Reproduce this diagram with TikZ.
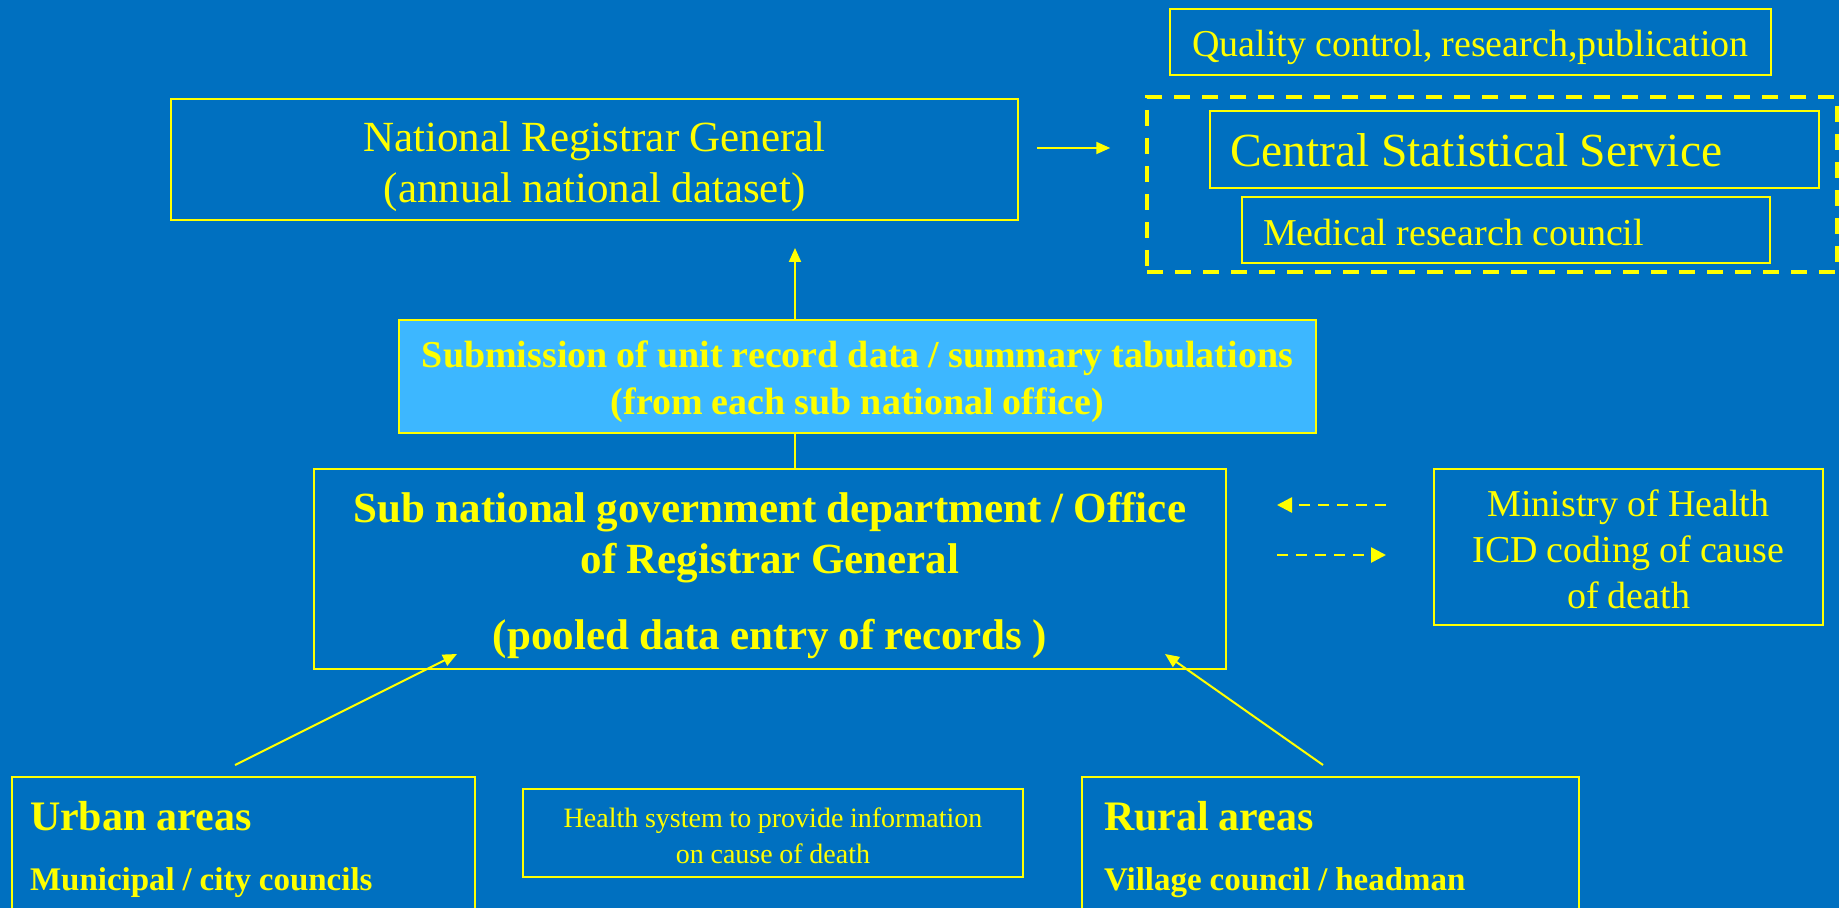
\documentclass[tikz,border=0pt]{standalone}
\usepackage{fontspec}
\setmainfont{Liberation Serif}[WordSpace=0.95]
\usetikzlibrary{arrows.meta,calc}
\definecolor{bg}{HTML}{0070C0}
\definecolor{ylw}{HTML}{FFFF00}
\definecolor{lblue}{HTML}{3DB7FF}
\tikzset{
  bx/.style={draw=ylw, line width=1pt, text=ylw, inner sep=0pt, anchor=center},
  ctr/.style={execute at begin node={\spaceskip=0pt\xspaceskip=0pt\centering}},
  lft/.style={execute at begin node={\spaceskip=0pt\xspaceskip=0pt\raggedright}},
  conn/.style={draw=ylw, line width=1pt},
  arr/.style={conn, -{Triangle[length=7pt,width=6pt]}},
  darr/.style={draw=ylw, line width=1.3pt, dash pattern=on 5.5pt off 4pt, -{Triangle[length=7.5pt,width=7.5pt]}},
  grpbox/.style={draw=ylw, line width=1.75pt, dash pattern=on 8pt off 6pt, inner sep=0pt},
}
\begin{document}
\begin{tikzpicture}[x=0.5pt,y=-0.5pt]
\useasboundingbox (0,0) rectangle (1839,908);
\clip (0,0) rectangle (1839,908);
\fill[bg] (0,0) rectangle (1839,908);

% top right group
\node[bx, minimum width=300.5pt, minimum height=33pt, text height=19pt, text depth=4.1pt, font=\fontsize{19}{23}\selectfont] (qual) at (1470.5,42) {Quality control, research,publication};
\node[grpbox, minimum width=345pt, minimum height=87.5pt] (grp) at (1492,184.5) {};
\node[bx, lft, minimum width=304.5pt, minimum height=38.5pt, text width=284.5pt, text height=17.4pt, inner xsep=10pt, font=\fontsize{23.75}{28}\selectfont] (css) at (1514.5,149.5) {Central Statistical Service};
\node[bx, lft, minimum width=264pt, minimum height=33pt, text width=243pt, text height=15.3pt, inner xsep=10.5pt, font=\fontsize{19}{23}\selectfont] (mrc) at (1506,230) {Medical research council};

% national registrar
\node[bx, ctr, minimum width=423.5pt, minimum height=60.5pt, text width=423.5pt, text height=22pt, font=\fontsize{21.5}{25.5}\selectfont] (nrg) at (594.5,159.5) {National Registrar General\\(annual national dataset)};

% submission
\node[bx, ctr, fill=lblue, minimum width=458.5pt, minimum height=56.5pt, text width=458.5pt, text height=19pt, font=\fontsize{19}{23.5}\selectfont\bfseries] (subm) at (857.5,376.5) {Submission of unit record data / summary tabulations\\(from each sub national office)};

% sub national
\node[bx, ctr, minimum width=456pt, minimum height=100pt, text width=456pt, text height=21.3pt, font=\fontsize{21.5}{25.5}\selectfont\bfseries] (subnat) at (770,569) {Sub national government department / Office\\of Registrar General\\[12.5pt](pooled data entry of records )};

% ministry
\node[bx, ctr, minimum width=194.5pt, minimum height=78pt, text width=194.5pt, text height=15.3pt, font=\fontsize{19}{23}\selectfont] (moh) at (1628.5,547) {Ministry of Health\\ICD coding of cause\\of death};

% bottom row
\node[bx, lft, minimum width=231.5pt, minimum height=68.5pt, text width=213.5pt, text height=18.3pt, inner xsep=9pt, font=\fontsize{21}{30}\selectfont\bfseries] (urban) at (243.5,845.5) {Urban areas\\{\fontsize{16.5}{20}\selectfont Municipal / city councils}};
\node[bx, ctr, minimum width=250pt, minimum height=44pt, text width=250pt, text height=12.6pt, font=\fontsize{14}{18}\selectfont] (health) at (773,833) {Health system to provide information\\on cause of death};
\node[bx, lft, minimum width=248.5pt, minimum height=68.5pt, text width=226.5pt, text height=18.3pt, inner xsep=11pt, font=\fontsize{21}{30}\selectfont\bfseries] (rural) at (1330.5,845.5) {Rural areas\\{\fontsize{16.5}{20}\selectfont Village council / headman}};

% connectors
\coordinate (vx) at (795,0);
\coordinate (y1) at (0,148);
\coordinate (ya) at (0,505);
\coordinate (yb) at (0,555);
\draw[arr, shorten >=13.5pt] (subm.north -| vx) -- (nrg.south -| vx);
\draw[conn] (subm.south -| vx) -- (subnat.north -| vx);
\draw[arr, shorten <=9pt, shorten >=17.5pt] (nrg.east |- y1) -- (grp.west |- y1);
\draw[darr, shorten <=23.5pt, shorten >=25pt] (moh.west |- ya) -- (subnat.east |- ya);
\draw[darr, shorten <=25pt, shorten >=23.5pt] (subnat.east |- yb) -- (moh.west |- yb);

\coordinate (ua) at (235,765);
\coordinate (ub) at (457,654);
\coordinate (ra) at (1323,765);
\coordinate (rb) at (1165,654);
\draw[arr] (ua) -- (ub);
\draw[arr] (ra) -- (rb);
\end{tikzpicture}
\end{document}
